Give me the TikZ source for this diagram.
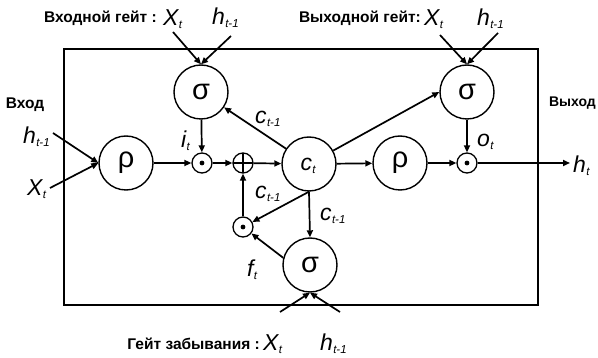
\documentclass[tikz,border=0pt]{standalone}
\usepackage{fontspec}
\setmainfont{Liberation Sans}
\usetikzlibrary{arrows.meta}
\newcommand{\sbx}[2]{{\itshape #1\kern0.3pt\raisebox{-3pt}{\fontsize{11.5}{11.5}\selectfont #2}}}
\begin{document}
\begin{tikzpicture}[x=1pt,y=-1pt,
  big/.style={circle, draw, line width=1.4pt, minimum size=54pt, inner sep=0pt, font=\fontsize{29}{29}\selectfont},
  op/.style={circle, draw, line width=1.3pt, minimum size=20pt, inner sep=0pt},
  dotop/.style={op, path picture={\fill (path picture bounding box.center) circle (2.4pt);}},
  plusop/.style={op, path picture={\draw[line width=2.4pt] (path picture bounding box.west) -- (path picture bounding box.east) (path picture bounding box.north) -- (path picture bounding box.south);}},
  arr/.style={line width=1.7pt, -{Triangle[length=7pt,width=6pt]}},
  gl/.style={font=\bfseries\fontsize{15.5}{15.5}\selectfont, inner sep=0pt},
  ml/.style={font=\fontsize{23}{23}\selectfont, inner sep=0pt, anchor=base west}]
\useasboundingbox (0,0) rectangle (598,358);
\draw[line width=1.8pt] (64,49) rectangle (538,305);
% nodes
\node[big] (sg1) at (201,92) {σ};
\node[big] (sg2) at (467,92) {σ};
\node[big] (sg3) at (310,265) {σ};
\node[big] (rh1) at (126,163) {ρ};
\node[big] (rh2) at (400,163) {ρ};
\node[big] (ct) at (309,164) {};
\node[ml, anchor=center] (ctl) at (308,166) {\sbx{c}{t}};
\node[dotop] (d1) at (202,163) {};
\node[plusop] (pl) at (243,163) {};
\node[dotop] (d2) at (467,163) {};
\node[dotop] (d3) at (243,227) {};
% free ends
\coordinate (a1) at (173,32);
\coordinate (a2) at (231,36);
\coordinate (b1) at (440,35);
\coordinate (b2) at (498,33);
\coordinate (c1) at (53,133);
\coordinate (c2) at (50,188);
\coordinate (e1) at (280,312);
\coordinate (e2) at (340,312);
\coordinate (hout) at (570,163);
% connectors
\draw[arr] (a1) -- (sg1.north);
\draw[arr] (a2) -- (sg1.north);
\draw[arr] (b1) -- (sg2.north);
\draw[arr] (b2) -- (sg2.north);
\draw[arr] (c1) -- (rh1.west);
\draw[arr] (c2) -- (rh1.west);
\draw[arr] (e1) -- (sg3.south);
\draw[arr] (e2) -- (sg3.south);
\draw[arr] (rh1) -- (d1);
\draw[arr] (d1) -- (pl);
\draw[arr] (pl) -- (ct);
\draw[arr] (ct) -- (rh2);
\draw[arr] (rh2) -- (d2);
\draw[arr] (d2) -- (hout);
\draw[arr] (sg1) -- (d1);
\draw[arr] (sg2) -- (d2);
\draw[arr] (ct) -- (sg1);
\draw[arr] (ct) -- (sg2.west);
\draw[arr] (ct.south) -- (sg3.north);
\draw[arr] (ct.south) -- (d3);
\draw[arr] (sg3.165) -- (d3);
\draw[arr] (d3) -- (pl);
% labels
\node[gl, anchor=base east] (t1) at (157,23) {Входной гейт :};
\node[ml] (t1x) at (163,26) {\sbx{X}{t}};
\node[ml] (t1h) at (212,25) {\sbx{h}{t-1}};
\node[gl, anchor=base east] (t2) at (421,23) {Выходной гейт:};
\node[ml] (t2x) at (424,26) {\sbx{X}{t}};
\node[ml] (t2h) at (477,26) {\sbx{h}{t-1}};
\node[gl, anchor=base east] (t3) at (260,350) {Гейт забывания :};
\node[ml] (t3x) at (263,351) {\sbx{X}{t}};
\node[ml] (t3h) at (320,351) {\sbx{h}{t-1}};
\node[gl] (vin) at (25,105) {Вход};
\node[ml] (lh) at (23,144) {\sbx{h}{t-1}};
\node[ml] (lx) at (27,196) {\sbx{X}{t}};
\node[gl, font=\bfseries\fontsize{14}{14}\selectfont, anchor=east] (vout) at (596,103) {Выход};
\node[ml] (rh) at (573,173) {\sbx{h}{t}};
\node[ml] (li) at (181,148) {\sbx{i}{t}};
\node[ml] (lc1) at (255,124) {\sbx{c}{t-1}};
\node[ml] (lc2) at (255,199) {\sbx{c}{t-1}};
\node[ml] (lc3) at (320,221) {\sbx{c}{t-1}};
\node[ml] (lf) at (247,277) {\sbx{f}{t}};
\node[ml] (lo) at (477,147) {\sbx{o}{t}};
\end{tikzpicture}
\end{document}
